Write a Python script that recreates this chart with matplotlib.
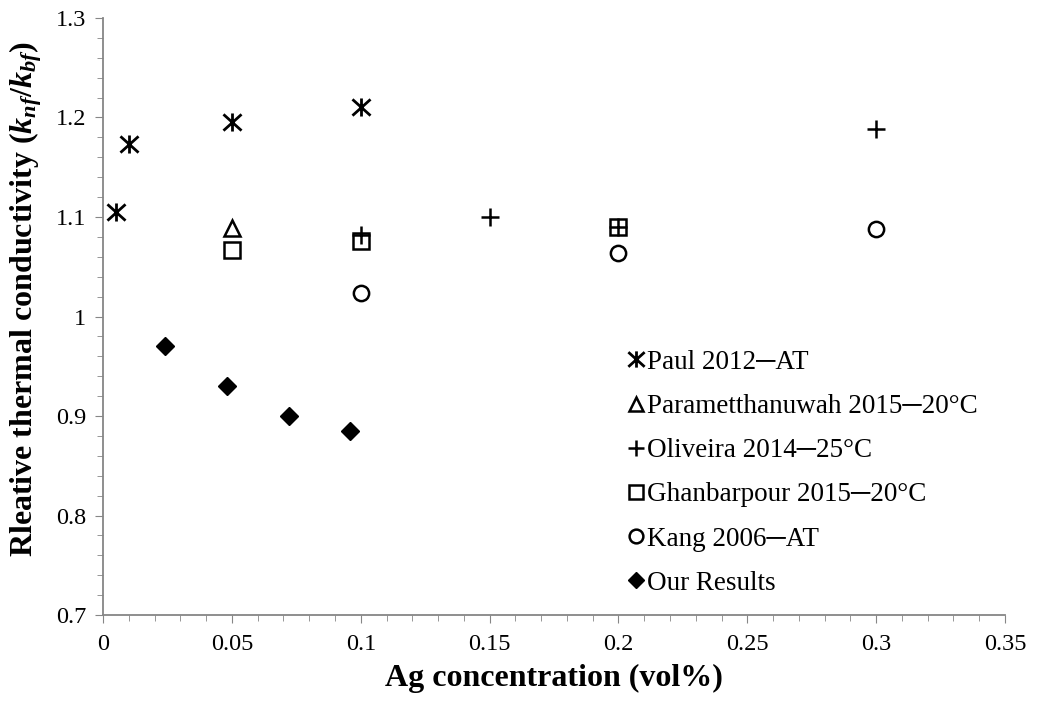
import matplotlib
matplotlib.use("Agg")
import matplotlib.pyplot as plt
from matplotlib.path import Path
from matplotlib.ticker import MultipleLocator

plt.rcParams['font.family'] = ['Liberation Serif', 'DejaVu Serif']
plt.rcParams['mathtext.fontset'] = 'custom'
plt.rcParams['mathtext.it'] = 'Liberation Serif:bold:italic'
plt.rcParams['mathtext.rm'] = 'Liberation Serif:bold'

# data
paul_x = [0.005, 0.01, 0.05, 0.1]
paul_y = [1.105, 1.173, 1.195, 1.211]
param_x = [0.05]
param_y = [1.089]
oliv_x = [0.1, 0.15, 0.2, 0.3]
oliv_y = [1.082, 1.100, 1.090, 1.188]
ghan_x = [0.05, 0.1, 0.2]
ghan_y = [1.067, 1.076, 1.090]
kang_x = [0.1, 0.2, 0.3]
kang_y = [1.024, 1.064, 1.088]
ours_x = [0.024, 0.048, 0.072, 0.096]
ours_y = [0.970, 0.930, 0.900, 0.885]

labels = ["Paul 2012\u2500AT", "Parametthanuwah 2015\u250020\u00b0C",
          "Oliveira 2014\u250025\u00b0C", "Ghanbarpour 2015\u250020\u00b0C",
          "Kang 2006\u2500AT", "Our Results"]

# excel-style star: X with a vertical bar
star = Path([(-1, -0.9), (1, 0.9), (-1, 0.9), (1, -0.9), (0, -1), (0, 1)],
            [Path.MOVETO, Path.LINETO, Path.MOVETO, Path.LINETO, Path.MOVETO, Path.LINETO])

fig = plt.figure(figsize=(10.43, 7.11), dpi=100)
ax = fig.add_axes([0.0988, 0.135, 0.8648, 0.8397])

ax.plot(paul_x, paul_y, ls='none', marker=star, ms=13, mec='black', mew=2, label=labels[0])
ax.plot(param_x, param_y, ls='none', marker='^', ms=11, mfc='none', mec='black', mew=1.8, label=labels[1])
ax.plot(oliv_x, oliv_y, ls='none', marker='+', ms=13, mec='black', mew=1.8, label=labels[2])
ax.plot(ghan_x, ghan_y, ls='none', marker='s', ms=11, mfc='none', mec='black', mew=1.8, label=labels[3])
ax.plot(kang_x, kang_y, ls='none', marker='o', ms=11, mfc='none', mec='black', mew=1.8, label=labels[4])
ax.plot(ours_x, ours_y, ls='none', marker='D', ms=9, mfc='black', mec='black', label=labels[5])

ax.set_xlim(0, 0.35)
ax.set_ylim(0.7, 1.3)
ax.xaxis.set_minor_locator(MultipleLocator(0.01))
ax.yaxis.set_minor_locator(MultipleLocator(0.02))
ax.set_xticks([0, 0.05, 0.1, 0.15, 0.2, 0.25, 0.3, 0.35])
ax.set_xticklabels(['0', '0.05', '0.1', '0.15', '0.2', '0.25', '0.3', '0.35'])
ax.set_yticks([0.7, 0.8, 0.9, 1.0, 1.1, 1.2, 1.3])
ax.set_yticklabels(['0.7', '0.8', '0.9', '1', '1.1', '1.2', '1.3'])

for s in ['top', 'right']:
    ax.spines[s].set_visible(False)
for s in ['left', 'bottom']:
    ax.spines[s].set_color('#868686')
    ax.spines[s].set_linewidth(1.3)
ax.tick_params(which='major', direction='out', length=6, color='#868686', labelsize=17.5)
ax.tick_params(axis='x', which='major', pad=8)
ax.tick_params(axis='y', which='major', pad=6)
ax.tick_params(which='minor', direction='out', length=4, color='#868686')

ax.set_xlabel('Ag concentration (vol%)', fontsize=23, fontweight='bold', labelpad=6)
ax.set_ylabel(r'Rleative thermal conductivity ($k_{nf}/k_{bf}$)', fontsize=23,
              fontweight='bold')
ax.yaxis.set_label_coords(-0.066, 0.529)

ax.legend(loc='upper left', bbox_to_anchor=(0.602, 0.508), bbox_transform=fig.transFigure,
          frameon=False, fontsize=19.5, markerscale=0.9, handlelength=0.6, handletextpad=0.1,
          labelspacing=0.71, borderaxespad=0, borderpad=0)

fig.savefig('out.png', dpi=100)
